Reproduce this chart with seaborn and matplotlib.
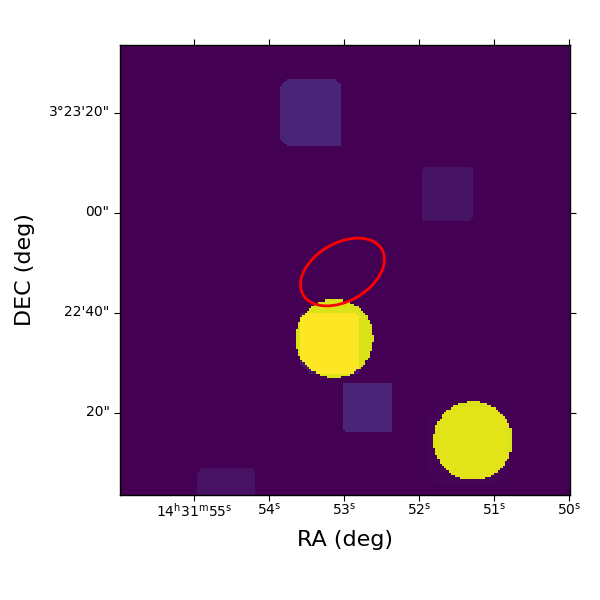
import numpy as np
import matplotlib
matplotlib.use("Agg")
import matplotlib.pyplot as plt
from matplotlib.patches import Ellipse
from matplotlib.transforms import ScaledTranslation
import seaborn as sns

# Image grid and additive sources (all in image cells)
grid_size = 200
# col0, col1, row0, row1, value, chamfers (tl, tr, br, bl)
box_sources = [
    (71.1, 98.4, 15.1, 44.8, 0.105, (3, 3, 0, 3)),
    (133.8, 157.3, 54.0, 77.6, 0.05, (2, 2, 1, 0)),
    (34.0, 59.7, 188.3, 201.0, 0.045, (2, 1, 0, 0)),
    (98.6, 121.4, 150.0, 172.4, 0.105, (0, 0, 1, 2)),
    (137.3, 172.0, 161.0, 194.7, 0.01, (4, 4, 4, 4)),
    (80.4, 106.4, 119.2, 146.0, 0.07, (0, 2, 0, 4)),
]
# col, row, radius, value
disc_sources = [
    (95.2, 130.4, 17.4, 0.945),
    (156.8, 175.8, 17.55, 0.945),
]

# Sky coordinates
ra_ticks_sec = [55, 54, 53, 52, 51, 50]
ra_tick_labels = [r"$\mathrm{14^{h}31^{m}55^{s}}$", r"$\mathrm{54^{s}}$", r"$\mathrm{53^{s}}$",
                  r"$\mathrm{52^{s}}$", r"$\mathrm{51^{s}}$", r"$\mathrm{50^{s}}$"]
dec_ticks_arcsec = [80, 60, 40, 20]  # arcsec above 3d22m00s
dec_tick_labels = ["3°23'20\"", "00\"", "22'40\"", "20\""]
ra_left_sec, ra_right_sec = 55.993, 49.993
dec_top_arcsec, dec_bottom_arcsec = 93.6, 3.6

# Ellipse region (sky units)
region_ra_sec, region_dec_arcsec = 53.027, 48.2
region_major_cells, region_minor_cells, region_tilt_deg = 40.4, 25.8, -30.0


def ra_to_col(s):
    return (ra_left_sec - np.asarray(s)) / (ra_left_sec - ra_right_sec) * grid_size


def dec_to_row(d):
    return (dec_top_arcsec - np.asarray(d)) / (dec_top_arcsec - dec_bottom_arcsec) * grid_size


rows, cols = np.mgrid[0:grid_size, 0:grid_size] + 0.5
image = np.zeros((grid_size, grid_size))
for c0, c1, r0, r1, v, (tl, tr, br, bl) in box_sources:
    mask = (cols >= c0) & (cols < c1) & (rows >= r0) & (rows < r1)
    mask &= (cols - c0) + (rows - r0) >= tl
    mask &= (c1 - cols) + (rows - r0) >= tr
    mask &= (c1 - cols) + (r1 - rows) >= br
    mask &= (cols - c0) + (r1 - rows) >= bl
    image[mask] += v
for c, r, rad, v in disc_sources:
    image[(cols - c) ** 2 + (rows - r) ** 2 <= rad ** 2] += v
image = np.clip(image, 0, 1)

fig = plt.figure(figsize=(6, 6), dpi=100)
ax = fig.add_axes([0.2, 0.175, 0.75, 0.75])
sns.heatmap(image, cmap="viridis", vmin=0, vmax=1, cbar=False, ax=ax,
            xticklabels=False, yticklabels=False, square=False)

ax.add_patch(Ellipse((ra_to_col(region_ra_sec), dec_to_row(region_dec_arcsec)),
                     region_major_cells, region_minor_cells, angle=region_tilt_deg,
                     fill=False, edgecolor="red", linewidth=2))

ax.set_xticks(ra_to_col(ra_ticks_sec))
ax.set_xticklabels(ra_tick_labels, fontsize=10, rotation=0)
ax.set_yticks(dec_to_row(dec_ticks_arcsec))
ax.set_yticklabels(dec_tick_labels, fontsize=10, rotation=0)
ax.tick_params(axis="both", which="major", length=4, width=0.8, top=True, right=True,
               left=True, bottom=True, color="black", labelcolor="black")
ax.tick_params(axis="x", pad=1)
lift = ScaledTranslation(0, 2 / 100, fig.dpi_scale_trans)
for lab in ax.get_yticklabels():
    lab.set_transform(lab.get_transform() + lift)
for side in ax.spines.values():
    side.set_visible(True)
    side.set_color("black")
    side.set_linewidth(1.0)
ax.set_xlabel("RA (deg)", fontsize=16, labelpad=7)
ax.set_ylabel("DEC (deg)", fontsize=16, labelpad=10)

fig.savefig("out.png", dpi=100)
